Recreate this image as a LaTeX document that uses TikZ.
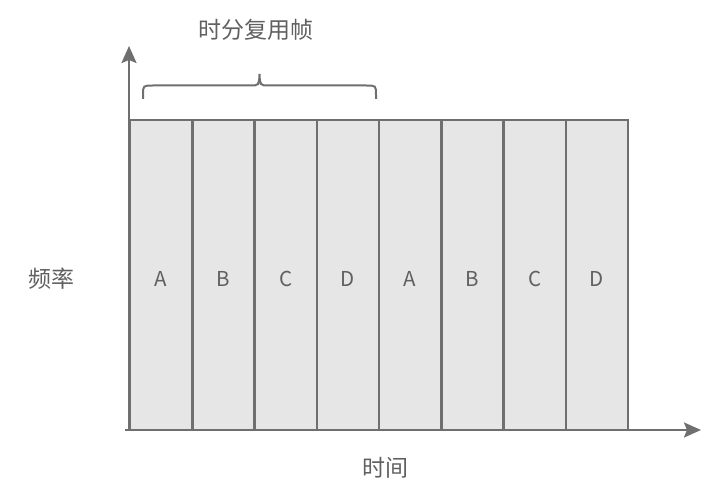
\documentclass[tikz,border=0pt]{standalone}
\usepackage{fontspec}
\setmainfont{Noto Sans CJK SC}
\usetikzlibrary{arrows.meta}
\definecolor{linegray}{HTML}{6F6F6F}
\definecolor{boxfill}{HTML}{E6E6E6}
\definecolor{txtgray}{HTML}{606060}
\tikzset{
  slot/.style={draw=linegray, fill=boxfill, line width=2.5bp, minimum width=62.25bp, minimum height=310bp, inner sep=0pt, outer sep=0pt, text=txtgray, font=\fontsize{20.5bp}{24bp}\selectfont, anchor=center},
  axis/.style={draw=linegray, line width=2.5bp, -{Stealth[length=17bp,width=15bp,inset=3bp]}},
  lbl/.style={text=txtgray, font=\fontsize{23bp}{26bp}\selectfont, inner sep=0pt},
  bracestyle/.style={draw=linegray, line width=2bp}
}
\begin{document}
\begin{tikzpicture}[x=1bp,y=-1bp]
\useasboundingbox (0,0) rectangle (727,484);
\foreach \i/\t in {1/A,2/B,3/C,4/D,5/A,6/B,7/C,8/D}{
  \node[slot] (c\i) at ({130+62.25*(\i-0.5)},275) {\raisebox{-4bp}[\height][0pt]{\t}};
}
\coordinate (xs) at (125,430);
\coordinate (xe) at (701,430);
\coordinate (ys) at (129,431);
\coordinate (ye) at (129,46);
\draw[axis] (xs) -- (xe);
\draw[axis] (ys) -- (ye);
\coordinate (bl) at (143,99);
\coordinate (br) at (376,99);
\draw[bracestyle] (bl) -- (143,95) .. controls (143,85.5) .. (153,85.5) -- (250,85.5) .. controls (259,85.5) .. (259.5,74) .. controls (260,85.5) .. (269,85.5) -- (366,85.5) .. controls (376,85.5) .. (376,95) -- (br);
\node[lbl] (title) at (256,30) {时分复用帧};
\node[lbl] (freq) at (51,279) {频率};
\node[lbl] (time) at (385,468) {时间};
\end{tikzpicture}
\end{document}
